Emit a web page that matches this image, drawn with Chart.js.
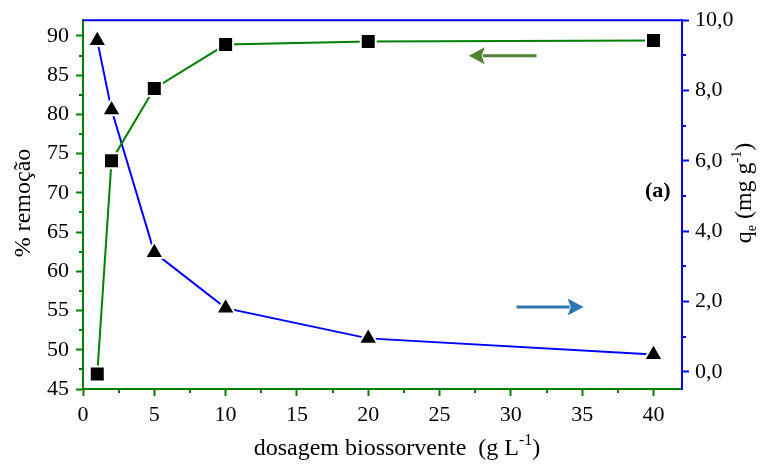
<!DOCTYPE html>
<html><head><meta charset="utf-8">
<script src="https://cdn.jsdelivr.net/npm/chart.js@4.4.1/dist/chart.umd.min.js"></script>
<style>html,body{margin:0;padding:0;background:#fff;overflow:hidden}</style>
</head><body>
<canvas id="c" width="761" height="469"></canvas>
<script>
// ---- data ----
const dosagem = [1, 2, 5, 10, 20, 40];
const remocao = [46.9, 74.1, 83.3, 88.9, 89.3, 89.4];
const qe = [9.42, 7.45, 3.39, 1.81, 0.95, 0.49];
const xMinor = [2.5, 7.5, 12.5, 17.5, 22.5, 27.5, 32.5, 37.5];
const leftMinor = [47.5, 52.5, 57.5, 62.5, 67.5, 72.5, 77.5, 82.5, 87.5];
const rightMinor = [1, 3, 5, 7, 9];
// annotations (data coordinates)
const greenArrow = [31.8, 27.05, 87.47];   // x from, x to, y (left axis)
const blueArrow = [30.4, 35.1, 1.84];      // x from, x to, y (right axis)
const panelLabel = ['(a)', 40.3, 5.13];    // text, x, y (right axis)

const SERIF = "'Liberation Serif', 'Times New Roman', serif";
const GREEN = '#008000';
const BLUE = '#0000ff';

function drawArrow(ctx, x1, y, x2, color) {
  const dir = Math.sign(x2 - x1);
  const headL = 16, headH = 8.5;
  ctx.save();
  ctx.strokeStyle = color; ctx.fillStyle = color; ctx.lineWidth = 3;
  ctx.beginPath(); ctx.moveTo(x1, y); ctx.lineTo(x2 - dir * headL + dir * 2, y); ctx.stroke();
  ctx.beginPath();
  ctx.moveTo(x2, y);
  ctx.lineTo(x2 - dir * headL, y - headH);
  ctx.lineTo(x2 - dir * headL * 0.8, y);
  ctx.lineTo(x2 - dir * headL, y + headH);
  ctx.closePath(); ctx.fill();
  ctx.restore();
}

// draws a sequence of [text, kind] pieces horizontally starting at x, baseline y
function pieces(ctx, list, x, y, size, small, measureOnly) {
  let w = 0;
  for (const [t, k] of list) {
    ctx.font = (k ? small : size) + 'px ' + SERIF;
    const dy = k === 'sup' ? -size * 0.42 : (k === 'sub' ? size * 0.22 : 0);
    if (!measureOnly) ctx.fillText(t, x + w, y + dy);
    w += ctx.measureText(t).width;
  }
  return w;
}

const decor = {
  id: 'decor',
  afterDraw(chart) {
    const ctx = chart.ctx, ca = chart.chartArea;
    const xs = chart.scales.x, yl = chart.scales.y, yr = chart.scales.y2;
    ctx.save();
    // top frame line
    ctx.strokeStyle = BLUE; ctx.lineWidth = 2;
    ctx.beginPath(); ctx.moveTo(ca.left, ca.top); ctx.lineTo(ca.right + 1, ca.top); ctx.stroke();
    // minor ticks
    ctx.lineWidth = 2;
    ctx.strokeStyle = GREEN;
    for (const v of xMinor) { const p = Math.round(xs.getPixelForValue(v)); ctx.beginPath(); ctx.moveTo(p, ca.bottom); ctx.lineTo(p, ca.bottom + 4); ctx.stroke(); }
    for (const v of leftMinor) { const p = Math.round(yl.getPixelForValue(v)); ctx.beginPath(); ctx.moveTo(ca.left, p); ctx.lineTo(ca.left - 4, p); ctx.stroke(); }
    ctx.strokeStyle = BLUE;
    for (const v of rightMinor) { const p = Math.round(yr.getPixelForValue(v)); ctx.beginPath(); ctx.moveTo(ca.right, p); ctx.lineTo(ca.right + 4, p); ctx.stroke(); }

    // arrows
    drawArrow(ctx, xs.getPixelForValue(greenArrow[0]), yl.getPixelForValue(greenArrow[2]), xs.getPixelForValue(greenArrow[1]), '#548235');
    drawArrow(ctx, xs.getPixelForValue(blueArrow[0]), yr.getPixelForValue(blueArrow[2]), xs.getPixelForValue(blueArrow[1]), '#2e75b6');

    // panel label
    ctx.fillStyle = '#000';
    ctx.font = 'bold 22px ' + SERIF;
    ctx.textAlign = 'center'; ctx.textBaseline = 'middle';
    ctx.fillText(panelLabel[0], xs.getPixelForValue(panelLabel[1]), yr.getPixelForValue(panelLabel[2]));

    // axis titles
    ctx.textAlign = 'left'; ctx.textBaseline = 'alphabetic';
    // x title
    const xt = [['dosagem biossorvente  (g L', null], ['-1', 'sup'], [')', null]];
    let w = pieces(ctx, xt, 0, 0, 24, 16, true);
    pieces(ctx, xt, 397 - w / 2, 455, 24, 16, false);
    // left title
    ctx.save();
    ctx.translate(30, 203); ctx.rotate(-Math.PI / 2);
    const lt = [['% remoção', null]];
    w = pieces(ctx, lt, 0, 0, 24, 16, true);
    pieces(ctx, lt, -w / 2, 0, 24, 16, false);
    ctx.restore();
    // right title
    ctx.save();
    ctx.translate(751, 193); ctx.rotate(-Math.PI / 2);
    const rt = [['q', null], ['e', 'sub'], [' (mg g', null], ['-1', 'sup'], [')', null]];
    w = pieces(ctx, rt, 0, 0, 24, 14, true);
    pieces(ctx, rt, -w / 2, 0, 24, 14, false);
    ctx.restore();
    ctx.restore();
  }
};

const tickFont = { family: SERIF, size: 22 };

new Chart(document.getElementById('c'), {
  type: 'scatter',
  data: {
    datasets: [
      {
        label: '% remoção',
        data: dosagem.map((x, i) => ({ x, y: remocao[i] })),
        yAxisID: 'y',
        showLine: true,
        borderColor: GREEN, borderWidth: 2,
        pointStyle: 'rect', pointRadius: 10.6,
        pointBackgroundColor: '#000', pointBorderColor: '#fff', pointBorderWidth: 2,
        pointHoverRadius: 10.6
      },
      {
        label: 'qe',
        data: dosagem.map((x, i) => ({ x, y: qe[i] })),
        yAxisID: 'y2',
        showLine: true,
        borderColor: BLUE, borderWidth: 2,
        pointStyle: 'triangle', pointRadius: 10.8,
        pointBackgroundColor: '#000', pointBorderColor: '#fff', pointBorderWidth: 2,
        pointHoverRadius: 10.8
      }
    ]
  },
  options: {
    responsive: false,
    animation: false,
    devicePixelRatio: 1,
    layout: { padding: { top: 17, left: 0, right: 0, bottom: 0 } },
    plugins: { legend: { display: false }, tooltip: { enabled: false } },
    scales: {
      x: {
        type: 'linear', min: 0, max: 42,
        afterFit(s) { s.height = 80; },
        border: { color: GREEN, width: 2 },
        grid: { drawOnChartArea: false, drawTicks: true, tickLength: 7, tickWidth: 2, tickColor: GREEN },
        ticks: { stepSize: 5, includeBounds: false, font: tickFont, color: '#000', padding: 6, maxRotation: 0 }
      },
      y: {
        type: 'linear', position: 'left', min: 45, max: 92,
        afterFit(s) { s.width = 83; },
        border: { color: GREEN, width: 2 },
        grid: { drawOnChartArea: false, drawTicks: true, tickLength: 7, tickWidth: 2, tickColor: GREEN },
        ticks: { stepSize: 5, includeBounds: false, font: tickFont, color: '#000', padding: 7 }
      },
      y2: {
        type: 'linear', position: 'right', min: -0.49, max: 10,
        afterFit(s) { s.width = 79; },
        border: { color: BLUE, width: 2 },
        grid: { drawOnChartArea: false, drawTicks: true, tickLength: 7, tickWidth: 2, tickColor: BLUE },
        ticks: { stepSize: 2, includeBounds: false, font: tickFont, color: '#000', padding: 6,
          callback: v => v.toFixed(1).replace('.', ',') }
      }
    }
  },
  plugins: [decor]
});
</script>
</body></html>
